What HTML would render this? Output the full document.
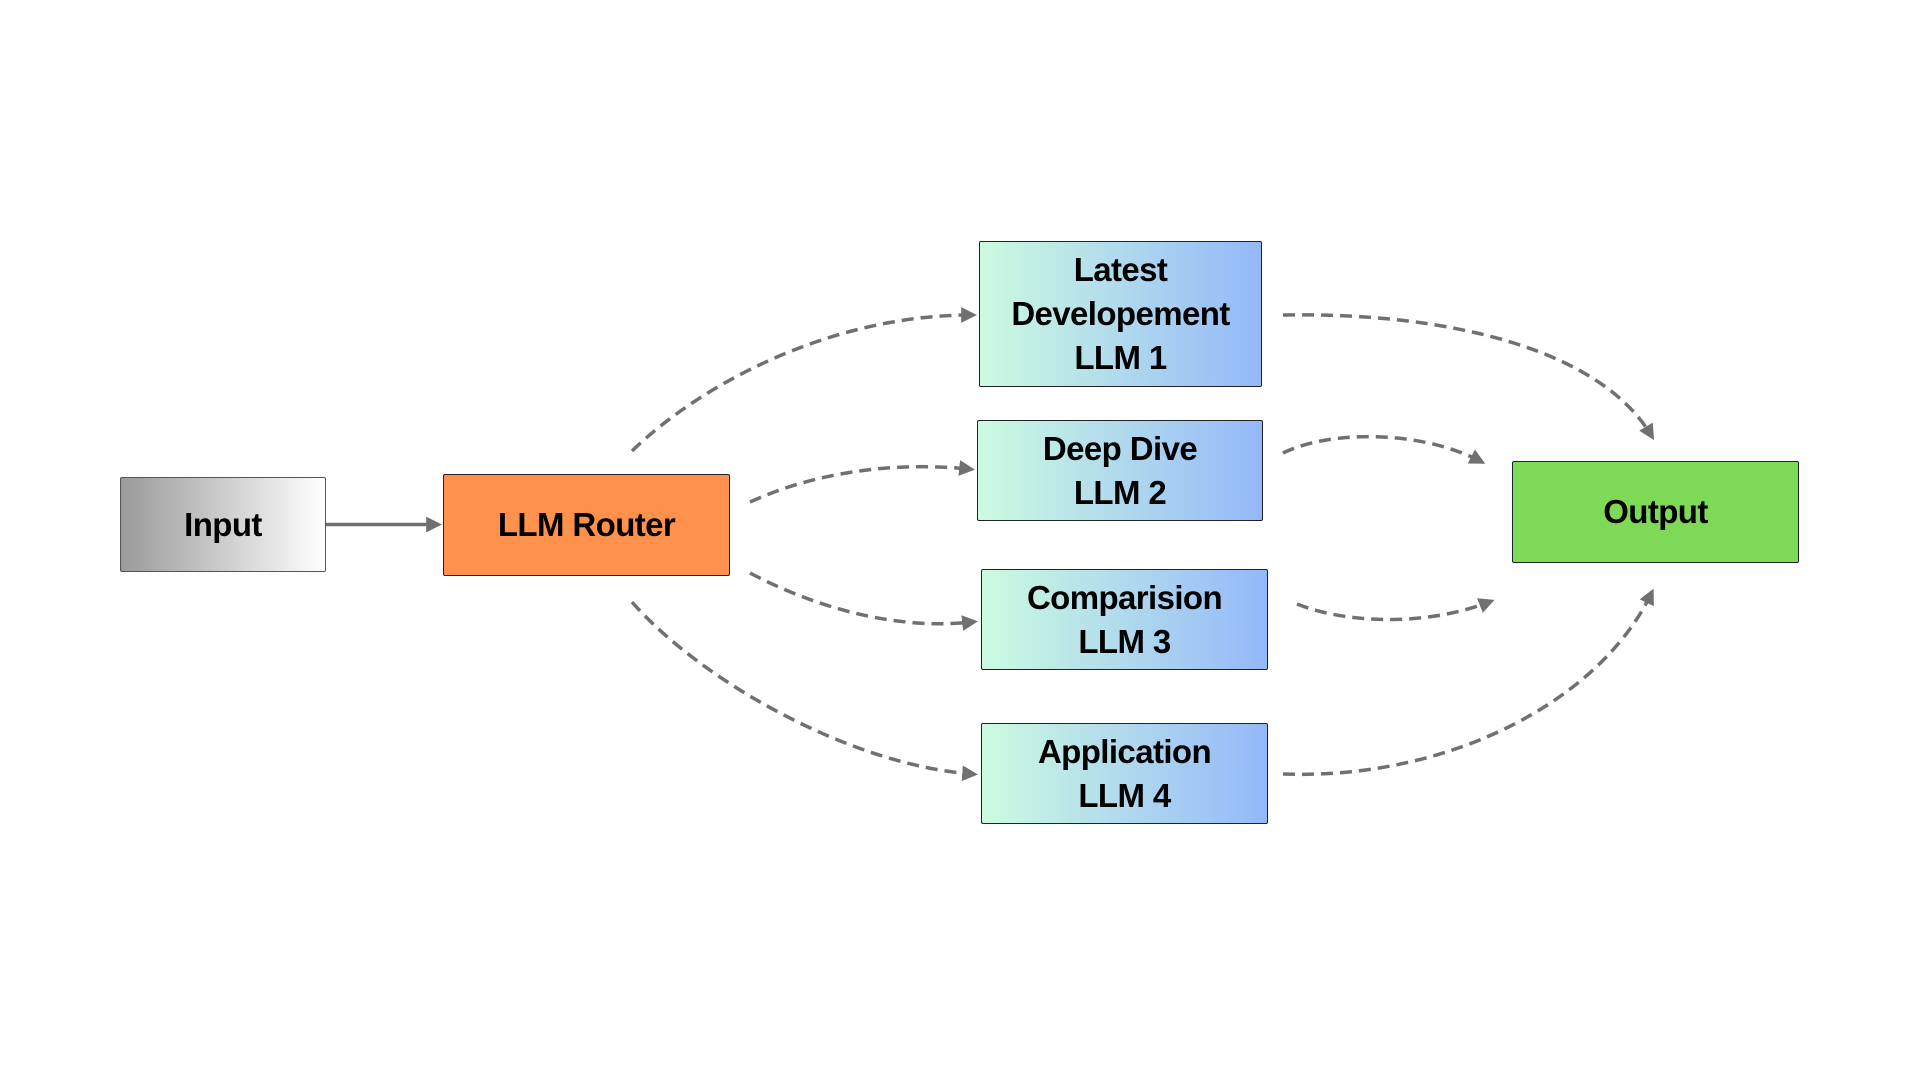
<!DOCTYPE html>
<html><head><meta charset="utf-8"><style>
html,body{margin:0;padding:0;background:#fff}
body{width:1920px;height:1080px;position:relative;overflow:hidden;font-family:"Liberation Sans",sans-serif}
.b{position:absolute;box-sizing:border-box;border:1.5px solid #222;border-radius:2px;display:flex;align-items:center;justify-content:center;text-align:center;font-weight:bold;font-size:33px;line-height:44px;color:#000;letter-spacing:-0.6px}
.g{background:linear-gradient(to right,#ccfbe0,#94b8fa)}
</style></head><body>
<svg width="1920" height="1080" style="position:absolute;left:0;top:0">
<defs>
<marker id="m" markerWidth="4.5" markerHeight="4.5" refX="2.8" refY="2.25" orient="auto" markerUnits="strokeWidth"><path d="M0,0 L4.5,2.25 L0,4.5 z" fill="#707070"/></marker>
</defs>
<g fill="none" stroke="#707070" stroke-width="3.5">
<path d="M326,524.5 L436,524.5" marker-end="url(#m)"/>
<g stroke-dasharray="12 7" marker-end="url(#m)">
<path d="M632,451 C700,385 830,315 971,315"/>
<path d="M750,502 C820,470 900,462 969,469"/>
<path d="M750,573 C820,610 900,630 972,622"/>
<path d="M632,602 C700,680 850,765 972,774"/>
<path d="M1283,315 C1450,312 1600,350 1651,435"/>
<path d="M1283,453 C1330,430 1420,430 1480,461"/>
<path d="M1297,604 C1350,625 1430,625 1489,602"/>
<path d="M1283,774 C1450,780 1600,700 1651,594"/>
</g></g></svg>
<div class="b" style="left:120px;top:477px;width:206px;height:95px;background:linear-gradient(to right,#9a9a9a,#fff);border-color:#555">Input</div>
<div class="b" style="left:443px;top:474px;width:287px;height:102px;background:#ff914d">LLM Router</div>
<div class="b g" style="left:979px;top:241px;width:283px;height:146px">Latest<br>Developement<br>LLM 1</div>
<div class="b g" style="left:977px;top:420px;width:286px;height:101px">Deep Dive<br>LLM 2</div>
<div class="b g" style="left:981px;top:569px;width:287px;height:101px">Comparision<br>LLM 3</div>
<div class="b g" style="left:981px;top:723px;width:287px;height:101px">Application<br>LLM 4</div>
<div class="b" style="left:1512px;top:461px;width:287px;height:102px;background:#7ed957">Output</div>
</body></html>
